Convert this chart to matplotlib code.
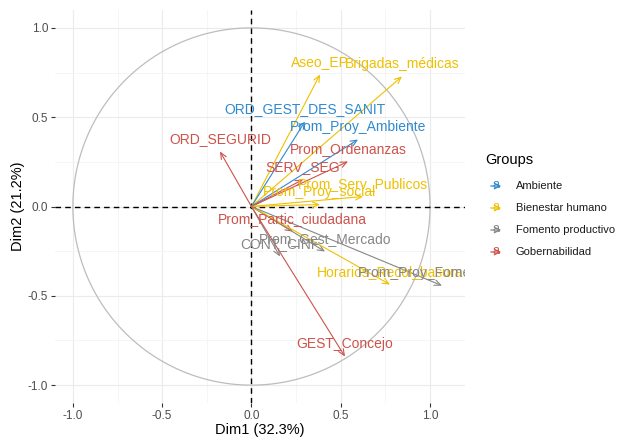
import numpy as np
import matplotlib
matplotlib.use("Agg")
import matplotlib.pyplot as plt

plt.rcParams['font.family'] = ['Liberation Sans', 'DejaVu Sans']
plt.rcParams['axes.unicode_minus'] = False

# variabili e coordinate (Dim1, Dim2)
variables = ["Aseo_EP", "Brigadas_médicas", "ORD_GEST_DES_SANIT", "Prom_Proy_Ambiente",
             "ORD_SEGURID", "Prom_Ordenanzas", "SERV_SEG", "Prom_Serv_Publicos",
             "Prom_Proy_social", "Prom_Partic_ciudadana", "Prom_Gest_Mercado", "CONT_CINF",
             "Horarios_Recol_basura", "Prom_Proy_Fomento_prod", "GEST_Concejo"]
dim1 = [0.384, 0.843, 0.300, 0.597, -0.176, 0.541, 0.289, 0.625,
        0.384, 0.232, 0.412, 0.160, 0.776, 1.067, 0.524]
dim2 = [0.739, 0.728, 0.476, 0.375, 0.308, 0.252, 0.151, 0.056,
        0.011, -0.140, -0.252, -0.280, -0.437, -0.443, -0.840]
groups = ["Bienestar humano", "Bienestar humano", "Ambiente", "Ambiente",
          "Gobernabilidad", "Gobernabilidad", "Gobernabilidad", "Bienestar humano",
          "Bienestar humano", "Gobernabilidad", "Fomento productivo", "Fomento productivo",
          "Bienestar humano", "Fomento productivo", "Gobernabilidad"]

group_names = ["Ambiente", "Bienestar humano", "Fomento productivo", "Gobernabilidad"]
group_colors = {"Ambiente": "#2F8AD0", "Bienestar humano": "#EFC000",
                "Fomento productivo": "#868686", "Gobernabilidad": "#CD534C"}

fig = plt.figure(figsize=(6.19, 4.38), dpi=100)
ax = fig.add_axes([55/619, 35/438, 410/619, 393/438])

ax.set_xlim(-1.10, 1.196)
ax.set_ylim(-1.10, 1.10)

# griglia stile theme_minimal
ax.set_xticks([-1.0, -0.5, 0.0, 0.5, 1.0])
ax.set_yticks([-1.0, -0.5, 0.0, 0.5, 1.0])
ax.set_xticks([-0.75, -0.25, 0.25, 0.75], minor=True)
ax.set_yticks([-0.75, -0.25, 0.25, 0.75], minor=True)
ax.grid(True, which="major", color="#EBEBEB", lw=0.8)
ax.grid(True, which="minor", color="#F4F4F4", lw=0.6)
ax.set_axisbelow(True)
for s in ax.spines.values():
    s.set_visible(False)
ax.tick_params(which="major", length=3, color="#333333", labelsize=8.5, labelcolor="#4D4D4D", pad=2)
ax.tick_params(which="minor", length=0)

# cerchio di correlazione
t = np.linspace(0, 2*np.pi, 400)
ax.plot(np.cos(t), np.sin(t), color="#BDBDBD", lw=0.9, zorder=1)

ax.axhline(0, color="black", lw=1.0, ls=(0, (4, 3)), zorder=2)
ax.axvline(0, color="black", lw=1.0, ls=(0, (4, 3)), zorder=2)

for name, x, y, g in zip(variables, dim1, dim2, groups):
    c = group_colors[g]
    ax.annotate("", xy=(x, y), xytext=(0, 0),
                arrowprops=dict(arrowstyle="->,head_length=0.45,head_width=0.2",
                                color=c, lw=0.8, shrinkA=0, shrinkB=0), zorder=3)
    ax.annotate(name, xy=(x, y), xytext=(0, 9), textcoords="offset points",
                ha="center", va="center", color=c, fontsize=10,
                annotation_clip=False, clip_on=True, zorder=4)

ax.set_xlabel("Dim1 (32.3%)", fontsize=10.5, labelpad=1)
ax.set_ylabel("Dim2 (21.2%)", fontsize=10.5, labelpad=2)

# legenda fatta a mano
fig.text(485/619, 1 - 160/438, "Groups", fontsize=10.5, va="center", ha="left")
for i, g in enumerate(group_names):
    yy = 1 - (186 + 22*i)/438
    c = group_colors[g]
    fig.add_artist(matplotlib.patches.FancyArrowPatch(
        (488/619, yy), (504/619, yy), transform=fig.transFigure,
        arrowstyle="->,head_length=4,head_width=2", color=c, lw=0.9))
    fig.text(496/619, yy + 1/438, "a", color=c, fontsize=9, ha="center", va="center")
    fig.text(516/619, yy, g, fontsize=8, va="center", ha="left", color="#1A1A1A")

fig.savefig("out.png", dpi=100)
